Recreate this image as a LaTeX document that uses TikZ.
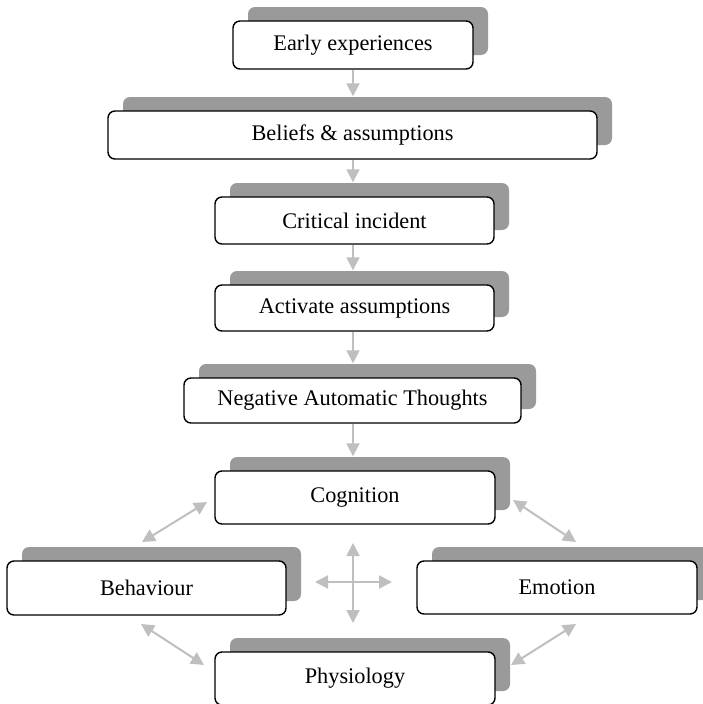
\documentclass[tikz,border=0pt]{standalone}
\usepackage{fontspec}
\setmainfont{Liberation Serif}
\usetikzlibrary{shadows,arrows.meta}
\definecolor{shadowgray}{HTML}{9A9A9A}
\definecolor{arrowgray}{HTML}{BFBFBF}
\begin{document}
\begin{tikzpicture}[x=1pt,y=-1pt,
  box/.style={draw=black, line width=1.4pt, fill=white, rounded corners=7pt,
    inner sep=0pt, font=\fontsize{22.3}{26}\selectfont,
    drop shadow={shadow xshift=15pt, shadow yshift=14pt, fill=shadowgray, opacity=1}},
  arr/.style={draw=arrowgray, line width=2pt, -{Triangle[length=13pt,width=13pt]}},
  darr/.style={draw=arrowgray, line width=2pt, {Triangle[length=13pt,width=13pt]}-{Triangle[length=13pt,width=13pt]}}]
\useasboundingbox (0,0) rectangle (703,704);
\node[box, minimum width=240pt, minimum height=48pt] (early) at (353,45) {Early experiences};
\node[box, minimum width=489pt, minimum height=48pt] (beliefs) at (352.5,135) {Beliefs \& assumptions};
\node[box, minimum width=279pt, minimum height=47pt] (critical) at (354.5,220.5) {Critical incident};
\node[box, minimum width=279pt, minimum height=46pt] (activate) at (354.5,308) {Activate assumptions};
\node[box, minimum width=337pt, minimum height=45pt] (nat) at (352.5,400.5) {Negative Automatic Thoughts};
\node[box, minimum width=280pt, minimum height=53pt] (cog) at (355,497.5) {Cognition};
\node[box, minimum width=279pt, minimum height=54pt] (beh) at (146.5,588) {Behaviour};
\node[box, minimum width=280pt, minimum height=53pt] (emo) at (557,587.5) {Emotion};
\node[box, minimum width=280pt, minimum height=53pt] (phys) at (355,678.5) {Physiology};
% vertical chain
\draw[arr] (early.south) -- ([yshift=14pt]early.south |- beliefs.north);
\draw[arr] (early.south |- beliefs.south) -- ([yshift=14pt]early.south |- critical.north);
\draw[arr] (early.south |- critical.south) -- ([yshift=14pt]early.south |- activate.north);
\draw[arr] (early.south |- activate.south) -- ([yshift=14pt]early.south |- nat.north);
\draw[arr] (early.south |- nat.south) -- ([yshift=14pt]early.south |- cog.north);
% diagonal connectors
\coordinate (cb1) at (207,502);
\coordinate (cb2) at (142,542);
\coordinate (ce1) at (513,500);
\coordinate (ce2) at (576,542);
\coordinate (bp1) at (141,624);
\coordinate (bp2) at (204,665);
\coordinate (ep1) at (576,624);
\coordinate (ep2) at (511,665);
\draw[darr] (cb1) -- (cb2);
\draw[darr] (ce1) -- (ce2);
\draw[darr] (bp1) -- (bp2);
\draw[darr] (ep1) -- (ep2);
% cross
\coordinate (ct) at (353,543);
\coordinate (cbm) at (353,623);
\coordinate (cl) at (315,582);
\coordinate (cr) at (392,582);
\draw[darr] (ct) -- (cbm);
\draw[darr] (cl) -- (cr);
\end{tikzpicture}
\end{document}
